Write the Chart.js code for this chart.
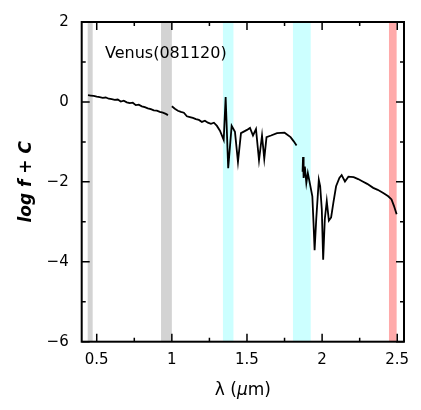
<!DOCTYPE html>
<html><head><meta charset="utf-8">
<script src="https://cdn.jsdelivr.net/npm/chart.js@4"></script>
<style>html,body{margin:0;padding:0;background:#fff}#wrap{width:421px;height:410px}</style>
</head><body><div id="wrap"><canvas id="c" width="421" height="410"></canvas></div>
<script>
// Spectrum: wavelength (μm) and log flux; null separates segments
const wavelength = [
 0.442,0.46,0.48,0.50,0.52,0.54,0.56,0.58,0.60,0.62,0.64,0.66,0.68,0.70,0.72,0.74,0.76,0.78,0.80,0.82,0.84,0.86,0.88,0.90,0.92,0.94,0.96,0.974,
 0.985,
 1.00,1.02,1.04,1.06,1.08,1.10,1.12,1.14,1.16,1.18,1.20,1.22,1.24,1.26,1.28,1.30,1.32,1.345,1.358,1.375,1.398,1.42,1.44,1.46,1.50,1.52,1.54,1.56,1.58,1.60,1.615,1.63,1.66,1.70,1.75,1.79,1.81,1.83,
 1.85,
 1.870,1.873,1.877,1.885,1.895,1.905,1.92,1.935,1.943,1.95,1.961,1.978,1.987,1.998,2.007,2.018,2.031,2.045,2.06,2.075,2.093,2.115,2.13,2.152,2.175,2.21,2.24,2.27,2.30,2.34,2.37,2.407,2.44,2.462,2.478,2.496
];
const logFlux = [
 0.17,0.16,0.15,0.13,0.12,0.10,0.11,0.08,0.07,0.05,0.06,0.01,0.03,-0.01,-0.03,-0.02,-0.08,-0.07,-0.11,-0.13,-0.16,-0.18,-0.21,-0.22,-0.25,-0.27,-0.30,-0.33,
 null,
 -0.11,-0.17,-0.22,-0.25,-0.27,-0.36,-0.38,-0.40,-0.43,-0.45,-0.50,-0.47,-0.52,-0.55,-0.52,-0.60,-0.72,-0.95,0.12,-1.66,-0.60,-0.75,-1.50,-0.78,-0.70,-0.65,-0.84,-0.68,-1.46,-0.84,-1.42,-0.88,-0.84,-0.78,-0.77,-0.88,-0.98,-1.09,
 null,
 -1.75,-1.38,-1.90,-1.62,-2.03,-1.78,-2.07,-2.36,-3.05,-3.71,-2.93,-1.95,-2.11,-2.69,-3.95,-2.93,-2.48,-2.97,-2.89,-2.52,-2.11,-1.90,-1.83,-1.99,-1.87,-1.88,-1.93,-1.99,-2.05,-2.15,-2.20,-2.28,-2.36,-2.44,-2.60,-2.81
];
// Shaded wavelength bands
const bandStart = [0.44, 0.928, 1.34, 1.806, 2.445];
const bandEnd   = [0.473, 1.0, 1.41, 1.924, 2.496];
const bandColor = ['#d3d3d3','#d3d3d3','#ccffff','#ccffff','#ffaaaa'];
const xTicks = [0.5, 1, 1.5, 2, 2.5];
const xMinorTicks = [0.75, 1.25, 1.75, 2.25];
const yTicks = [-6, -4, -2, 0, 2];
const yMinorTicks = [-5, -3, -1, 1];
const label = 'Venus(081120)';

const FONT = "'DejaVu Sans', sans-serif";
const points = wavelength.map((w, i) => ({x: w, y: logFlux[i]}));

const bandsPlugin = {
  id: 'bands',
  beforeDatasetsDraw(chart) {
    const {ctx, chartArea: a, scales: {x}} = chart;
    ctx.save();
    for (let i = 0; i < bandStart.length; i++) {
      const x0 = x.getPixelForValue(bandStart[i]), x1 = x.getPixelForValue(bandEnd[i]);
      ctx.fillStyle = bandColor[i];
      ctx.fillRect(x0, a.top, x1 - x0, a.bottom - a.top);
    }
    ctx.restore();
  }
};
const framePlugin = {
  id: 'frame',
  afterDatasetsDraw(chart) {
    const {ctx, chartArea: a, scales: {x, y}} = chart;
    ctx.save();
    ctx.strokeStyle = '#000';
    ctx.lineWidth = 1.5;
    ctx.beginPath();
    const tk = (v, len) => {
      const px = x.getPixelForValue(v);
      ctx.moveTo(px, a.bottom); ctx.lineTo(px, a.bottom - len);
      ctx.moveTo(px, a.top); ctx.lineTo(px, a.top + len);
    };
    const tky = (v, len) => {
      const py = y.getPixelForValue(v);
      ctx.moveTo(a.left, py); ctx.lineTo(a.left + len, py);
      ctx.moveTo(a.right, py); ctx.lineTo(a.right - len, py);
    };
    xTicks.forEach(v => tk(v, 8));
    xMinorTicks.forEach(v => tk(v, 4));
    yTicks.forEach(v => tky(v, 8));
    yMinorTicks.forEach(v => tky(v, 4));
    ctx.stroke();
    ctx.lineWidth = 2;
    ctx.strokeRect(a.left, a.top, a.right - a.left, a.bottom - a.top);
    ctx.fillStyle = '#000';
    ctx.font = "16px " + FONT;
    ctx.textAlign = 'left';
    ctx.textBaseline = 'middle';
    ctx.fillText(label, x.getPixelForValue(0.555), y.getPixelForValue(1.2));
    // x-axis title with italic mu
    const parts = [['λ (', 'normal'], ['μ', 'italic'], ['m)', 'normal']];
    let total = 0;
    parts.forEach(p => { ctx.font = p[1] + " 17px " + FONT; total += ctx.measureText(p[0]).width; });
    let cx = (a.left + a.right) / 2 - total / 2;
    parts.forEach(p => { ctx.font = p[1] + " 17px " + FONT; ctx.fillText(p[0], cx, 391); cx += ctx.measureText(p[0]).width; });
    ctx.restore();
  }
};

new Chart(document.getElementById('c'), {
  type: 'line',
  data: { datasets: [{
    data: points,
    borderColor: '#000',
    borderWidth: 1.8,
    pointRadius: 0,
    tension: 0,
    spanGaps: false
  }]},
  options: {
    responsive: false,
    animation: false,
    layout: { padding: { top: 16, right: 17, left: 0, bottom: 0 } },
    plugins: { legend: { display: false }, tooltip: { enabled: false } },
    scales: {
      x: {
        type: 'linear', min: 0.4, max: 2.545,
        afterBuildTicks: s => { s.ticks = xTicks.map(v => ({value: v})); },
        afterFit: s => { s.height = 68.3; },
        grid: { display: false, drawTicks: false },
        border: { display: false },
        ticks: { padding: 9, color: '#000', font: { family: FONT, size: 15 }, maxRotation: 0,
                 callback: v => String(v) },
        title: { display: false }
      },
      y: {
        type: 'linear', min: -6, max: 2,
        afterBuildTicks: s => { s.ticks = yTicks.map(v => ({value: v})); },
        afterFit: s => { s.width = 81.7; },
        grid: { display: false, drawTicks: false },
        border: { display: false },
        ticks: { padding: 13, color: '#000', font: { family: FONT, size: 15 },
                 callback: v => String(v).replace('-', '\u2212') },
        title: { display: true, text: 'log f + C', color: '#000',
                 font: { family: FONT, size: 17, style: 'italic', weight: 'bold' }, padding: { top: 16, bottom: 0 } }
      }
    }
  },
  plugins: [bandsPlugin, framePlugin]
});
</script>
</body></html>
